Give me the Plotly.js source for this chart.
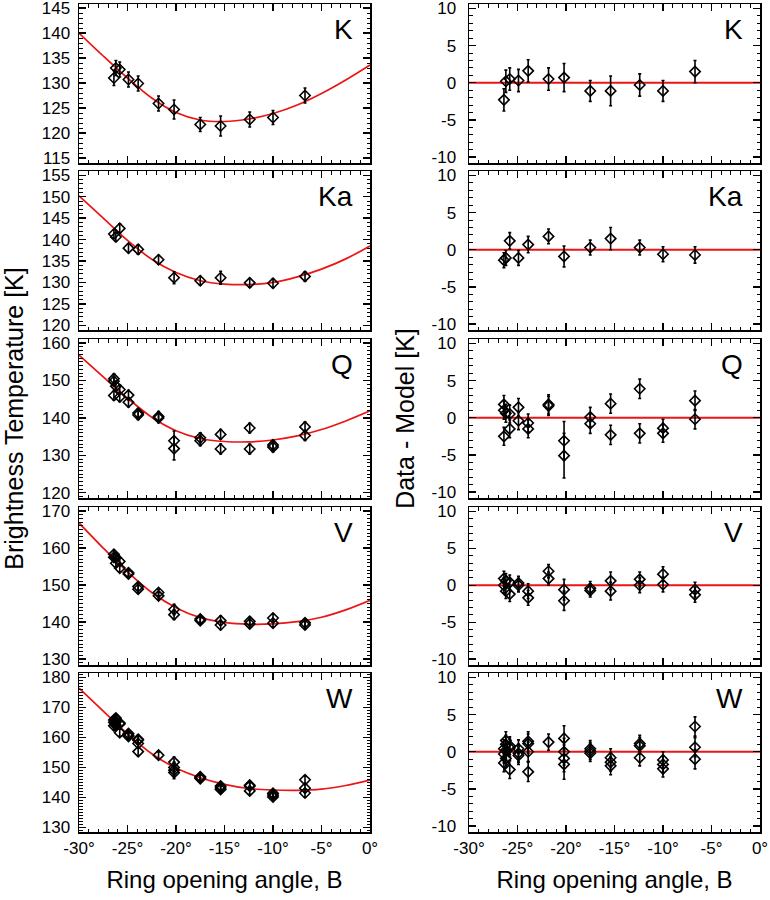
<!DOCTYPE html>
<html><head><meta charset="utf-8">
<script src="https://cdn.plot.ly/plotly-3.0.1.min.js"></script>
<style>html,body{margin:0;padding:0;background:#fff;}#chart{width:770px;height:900px;}</style>
</head><body><div id="chart"></div>
<script>
// ---------- tick labels ----------
const bands = ['K', 'Ka', 'Q', 'V', 'W'];
const xTickVals = [-30, -25, -20, -15, -10, -5, 0];
const xTickText = ['-30°', '-25°', '-20°', '-15°', '-10°', '-5°', '0°'];
const resTickVals = [-10, -5, 0, 5, 10];
const resTickText = ['-10', '-5', '0', '5', '10'];
const tbTicksK = [115, 120, 125, 130, 135, 140, 145];
const tbTicksKa = [120, 125, 130, 135, 140, 145, 150, 155];
const tbTicksQ = [120, 130, 140, 150, 160];
const tbTicksV = [130, 140, 150, 160, 170];
const tbTicksW = [130, 140, 150, 160, 170, 180];

// ---------- model curves ----------
const modelX = [-30, -27.5, -25, -22.5, -20, -17.5, -15, -12.5, -10, -7.5, -5, -2.5, 0];
const modelK  = [140.0, 135.4, 131.0, 127.0, 124.1, 122.6, 122.3, 122.8, 123.9, 125.6, 127.9, 130.6, 133.6];
const modelKa = [150.2, 145.0, 139.8, 135.4, 132.3, 130.4, 129.6, 129.5, 130.0, 131.3, 133.1, 135.5, 138.5];
const modelQ  = [156.8, 151.0, 145.3, 140.2, 136.6, 134.5, 133.7, 133.6, 134.1, 135.2, 136.9, 139.2, 141.9];
const modelV  = [166.8, 160.0, 153.6, 148.0, 143.9, 141.2, 139.9, 139.4, 139.5, 140.1, 141.3, 143.3, 145.9];
const modelW  = [176.5, 168.8, 161.2, 154.6, 149.8, 146.6, 144.4, 143.0, 142.5, 142.4, 142.8, 144.0, 145.8];

// ---------- K band ----------
const xK   = [-26.4, -26.2, -25.8, -24.9, -23.9, -21.8, -20.2, -17.5, -15.4, -12.4, -10.0, -6.7];
const tbK  = [131.0, 133.0, 132.7, 130.7, 129.9, 125.9, 124.7, 121.7, 121.4, 122.7, 123.1, 127.5];
const resK = [-2.3, 0.2, 0.5, 0.3, 1.6, 0.5, 0.7, -1.1, -1.1, -0.3, -1.1, 1.5];
const errK = [1.5, 1.5, 1.5, 1.5, 1.5, 1.5, 1.9, 1.4, 2.0, 1.5, 1.4, 1.5];

// ---------- Ka band ----------
const xKa   = [-26.4, -26.2, -25.8, -24.9, -23.9, -21.8, -20.2, -17.5, -15.4, -12.4, -10.0, -6.7];
const tbKa  = [141.3, 140.6, 142.6, 138.0, 137.7, 135.3, 131.1, 130.4, 131.1, 129.9, 129.8, 131.4];
const resKa = [-1.4, -1.1, 1.2, -1.1, 0.7, 1.8, -0.9, 0.3, 1.5, 0.3, -0.6, -0.7];
const errKa = [1.0, 1.0, 1.1, 1.0, 1.1, 1.0, 1.4, 1.0, 1.5, 1.0, 1.0, 1.1];

// ---------- Q band ----------
const xQ   = [-26.4, -26.4, -26.4, -26.2, -25.8, -25.8, -24.9, -24.9, -23.9, -23.9, -21.8, -21.8,
              -20.2, -20.2, -17.5, -17.5, -15.4, -15.4, -12.4, -12.4, -10.0, -10.0, -6.7, -6.7];
const tbQ  = [150.5, 149.8, 146.0, 148.5, 147.6, 145.6, 146.1, 144.2, 141.3, 140.8, 140.4, 140.0,
              133.9, 131.8, 134.7, 133.9, 135.6, 131.7, 137.3, 131.7, 132.8, 132.2, 137.6, 135.3];
const resQ = [1.8, 1.0, -2.5, 0.6, 0.5, -1.5, 1.4, -0.4, -0.7, -1.5, 1.8, 1.6,
              -3.1, -5.1, 0.1, -0.8, 1.9, -2.3, 3.9, -2.1, -1.4, -2.1, 2.3, -0.2];
const errQ = [1.2, 1.2, 1.2, 1.2, 1.2, 1.2, 1.2, 1.2, 1.2, 1.2, 1.3, 1.3,
              2.6, 3.0, 1.3, 1.3, 1.3, 1.3, 1.3, 1.3, 1.2, 1.2, 1.3, 1.3];

// ---------- V band ----------
const xV   = [-26.4, -26.4, -26.2, -26.2, -25.8, -25.8, -24.9, -24.9, -23.9, -23.9, -21.8, -21.8,
              -20.2, -20.2, -17.5, -17.5, -15.4, -15.4, -12.4, -12.4, -10.0, -10.0, -6.7, -6.7];
const tbV  = [158.3, 157.5, 157.4, 155.9, 156.4, 154.6, 153.3, 153.0, 149.6, 148.9, 148.0, 147.1,
              143.4, 142.0, 140.8, 140.4, 140.4, 139.2, 140.2, 139.5, 141.1, 139.7, 139.8, 139.2];
const resV = [0.9, 0.0, 0.6, -0.8, 0.4, -1.2, 0.3, 0.0, -0.8, -1.7, 1.9, 0.9,
              -0.6, -2.1, -0.4, -0.7, 0.6, -0.8, 0.8, 0.0, 1.5, 0.1, -0.6, -1.3];
const errV = [1.0, 1.0, 1.0, 1.0, 1.0, 1.0, 0.9, 0.9, 1.0, 1.0, 0.9, 0.9,
              1.4, 1.3, 0.9, 0.9, 1.2, 1.2, 1.0, 1.0, 1.0, 1.0, 1.0, 1.0];

// ---------- W band ----------
const xW   = [-26.4, -26.4, -26.4, -26.2, -26.2, -26.2, -26.2, -25.8, -25.8, -25.8,
              -24.9, -24.9, -24.9, -23.9, -23.9, -23.9, -23.9, -21.8,
              -20.2, -20.2, -20.2, -20.2, -17.5, -17.5, -17.5, -15.4, -15.4, -15.4,
              -12.4, -12.4, -12.4, -10.0, -10.0, -10.0, -6.7, -6.7, -6.7];
const tbW  = [165.8, 165.1, 163.9, 166.5, 166.0, 165.2, 164.1, 164.8, 164.5, 161.6,
              161.3, 160.7, 160.4, 159.4, 159.1, 158.0, 155.3, 154.1,
              151.8, 150.0, 149.1, 148.3, 146.9, 146.6, 146.3, 143.8, 143.2, 142.7,
              144.1, 143.8, 142.2, 141.4, 140.8, 140.2, 145.9, 143.1, 141.5];
const resW = [0.4, -0.3, -1.5, 1.5, 1.0, 0.2, -0.9, 0.8, 0.5, -2.4,
              0.4, -0.2, -0.5, 1.4, 1.1, 0.0, -2.7, 1.3,
              1.8, 0.0, -0.9, -1.7, 0.4, 0.1, -0.2, -0.8, -1.4, -1.9,
              1.1, 0.8, -0.8, -1.1, -1.7, -2.3, 3.4, 0.6, -1.0];
const errW = [1.2, 1.2, 1.2, 1.2, 1.2, 1.2, 1.2, 1.2, 1.2, 1.2,
              1.2, 1.2, 1.2, 1.3, 1.3, 1.3, 1.3, 1.1,
              1.7, 1.8, 1.8, 2.0, 1.1, 1.1, 1.1, 1.2, 1.2, 1.2,
              1.1, 1.1, 1.1, 1.1, 1.1, 1.1, 1.3, 1.3, 1.3];

// ---------- assemble ----------
const panels = [
  {name: bands[0], x: xK,  tb: tbK,  res: resK,  err: errK,  model: modelK,  ticks: tbTicksK,  range: [114.0, 145.8]},
  {name: bands[1], x: xKa, tb: tbKa, res: resKa, err: errKa, model: modelKa, ticks: tbTicksKa, range: [118.9, 156.0]},
  {name: bands[2], x: xQ,  tb: tbQ,  res: resQ,  err: errQ,  model: modelQ,  ticks: tbTicksQ,  range: [118.6, 161.1]},
  {name: bands[3], x: xV,  tb: tbV,  res: resV,  err: errV,  model: modelV,  ticks: tbTicksV,  range: [128.4, 171.1]},
  {name: bands[4], x: xW,  tb: tbW,  res: resW,  err: errW,  model: modelW,  ticks: tbTicksW,  range: [128.5, 181.5]}
];
const resRange = [-10.8, 10.6];

const W = 770, H = 900;
const FONT = 'Liberation Sans, Arial, Helvetica, sans-serif';
const RED = 'rgb(236,20,20)';
const colL = [79 / W, 370 / W];
const colR = [469 / W, 760 / W];
const rowsPx = [[4, 163], [171, 330], [339, 498], [507, 665], [673, 832]];

const traces = [];
const layout = {
  width: W, height: H,
  margin: {l: 0, r: 0, t: 0, b: 0},
  paper_bgcolor: '#fff', plot_bgcolor: '#fff',
  showlegend: false,
  font: {family: FONT, color: '#000', size: 17},
  annotations: [],
  shapes: []
};

function baseAxis() {
  return {
    showline: true, linecolor: '#000', linewidth: 1.5, mirror: 'ticks',
    ticks: 'inside', ticklen: 7, tickwidth: 1.3, tickcolor: '#000',
    showgrid: false, zeroline: false, fixedrange: true,
    ticklabeloverflow: 'allow',
    tickfont: {family: FONT, size: 17, color: '#000'},
    minor: {ticks: 'inside', ticklen: 3.5, tickwidth: 1, tickcolor: '#000', tickmode: 'linear', tick0: 0, dtick: 1, showgrid: false}
  };
}

panels.forEach((p, i) => {
  const nL = 2 * i + 1, nR = 2 * i + 2;
  const yDom = [1 - rowsPx[i][1] / H, 1 - rowsPx[i][0] / H];
  const last = i === panels.length - 1;
  const mid = i === 2;

  // left: model + data
  traces.push({
    x: modelX, y: p.model, xaxis: 'x' + nL, yaxis: 'y' + nL,
    type: 'scatter', mode: 'lines', line: {color: RED, width: 1.7, shape: 'spline'},
    hoverinfo: 'skip'
  });
  traces.push({
    x: p.x, y: p.tb, xaxis: 'x' + nL, yaxis: 'y' + nL,
    type: 'scatter', mode: 'markers',
    marker: {symbol: 'diamond-open', size: 8, color: '#000', line: {width: 1.6, color: '#000'}},
    error_y: {type: 'data', array: p.err, visible: true, color: '#000', thickness: 1.6, width: 1.5}
  });
  // right: residuals
  traces.push({
    x: p.x, y: p.res, xaxis: 'x' + nR, yaxis: 'y' + nR,
    type: 'scatter', mode: 'markers',
    marker: {symbol: 'diamond-open', size: 8, color: '#000', line: {width: 1.6, color: '#000'}},
    error_y: {type: 'data', array: p.err, visible: true, color: '#000', thickness: 1.6, width: 1.5}
  });
  // zero reference line in residual panel
  layout.shapes.push({
    type: 'line', layer: 'below', xref: 'x' + nR + ' domain', x0: 0, x1: 1,
    yref: 'y' + nR, y0: 0, y1: 0, line: {color: RED, width: 1.8}
  });

  const xl = Object.assign(baseAxis(), {
    domain: colL, anchor: 'y' + nL, range: [-30, 0],
    tickmode: 'array', tickvals: xTickVals, ticktext: xTickText, showticklabels: last
  });
  const xr = Object.assign(baseAxis(), {
    domain: colR, anchor: 'y' + nR, range: [-30, 0],
    tickmode: 'array', tickvals: xTickVals, ticktext: xTickText, showticklabels: last
  });
  if (last) {
    xl.title = {text: 'Ring opening angle, B', font: {family: FONT, size: 24, color: '#000'}, standoff: 14};
    xr.title = {text: 'Ring opening angle, B', font: {family: FONT, size: 24, color: '#000'}, standoff: 14};
  }
  const yl = Object.assign(baseAxis(), {
    domain: yDom, anchor: 'x' + nL, range: p.range,
    tickmode: 'array', tickvals: p.ticks, ticktext: p.ticks.map(String),
    ticklabelstandoff: 4
  });
  const yr = Object.assign(baseAxis(), {
    domain: yDom, anchor: 'x' + nR, range: resRange,
    tickmode: 'array', tickvals: resTickVals, ticktext: resTickText,
    ticklabelstandoff: 8
  });
  if (mid) {
    yl.title = {text: 'Brightness Temperature [K]', font: {family: FONT, size: 25, color: '#000'}, standoff: 14};
    yr.title = {text: 'Data - Model [K]', font: {family: FONT, size: 25, color: '#000'}, standoff: 10};
  }
  layout['xaxis' + nL] = xl;
  layout['xaxis' + nR] = xr;
  layout['yaxis' + nL] = yl;
  layout['yaxis' + nR] = yr;

  [nL, nR].forEach(n => {
    layout.annotations.push({
      text: p.name, xref: 'x' + n + ' domain', yref: 'y' + n + ' domain',
      x: 1, y: 1, xanchor: 'right', yanchor: 'top', xshift: -15, yshift: -8,
      showarrow: false, font: {family: FONT, size: 28, color: '#000'}
    });
  });
});

Plotly.newPlot('chart', traces, layout, {displayModeBar: false, staticPlot: true});
</script>
</body></html>
